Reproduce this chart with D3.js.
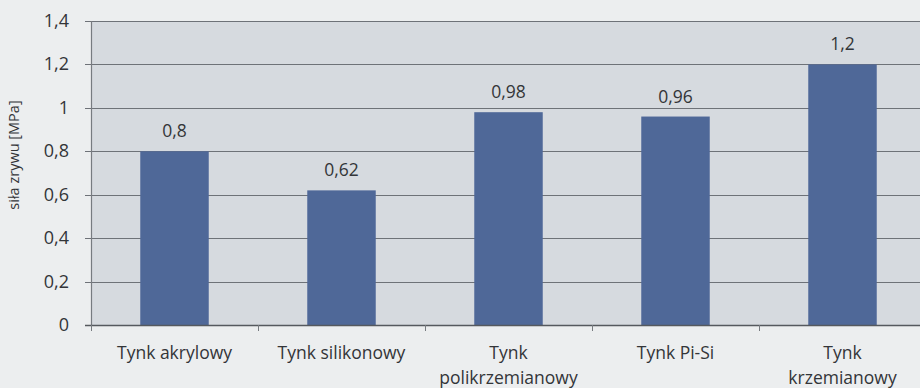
<!DOCTYPE html>
<html><head><meta charset="utf-8">
<script src="https://cdn.jsdelivr.net/npm/d3@7"></script>
<style>
html,body{margin:0;padding:0;background:#eceeef;}
svg{display:block;}
text{font-family:"Open Sans",Lato,sans-serif;fill:#333538;}
</style></head>
<body>
<svg id="c" width="920" height="388"></svg>
<script>
const categories = [["Tynk akrylowy"],["Tynk silikonowy"],["Tynk","polikrzemianowy"],["Tynk Pi-Si"],["Tynk","krzemianowy"]];
const values = [0.8, 0.62, 0.98, 0.96, 1.2];
const valueLabels = ["0,8","0,62","0,98","0,96","1,2"];
const yTicks = [0,0.2,0.4,0.6,0.8,1,1.2,1.4];
const yTickLabels = ["0","0,2","0,4","0,6","0,8","1","1,2","1,4"];
const yTitle = "siła zrywu [MPa]";

const svg = d3.select("#c");
const m = {l:91, t:21, r:-6, b:63};
const W = 920, H = 388;
const x = d3.scaleBand().domain(d3.range(values.length)).range([m.l, W - m.r]).paddingInner(0.59).paddingOuter(0.295);
const xc = d3.scaleBand().domain(d3.range(values.length)).range([m.l, W - m.r]);
const y = d3.scaleLinear().domain([0,1.4]).range([H - m.b, m.t]);

svg.append("rect").attr("x",m.l).attr("y",m.t).attr("width",W-m.r-m.l).attr("height",y(0)-m.t).attr("fill","#d6dadf");

// gridlines
svg.append("g").selectAll("line").data(yTicks.slice(1)).join("line")
  .attr("x1",m.l-6).attr("x2",W).attr("y1",d=>Math.round(y(d))+0.5).attr("y2",d=>Math.round(y(d))+0.5)
  .attr("stroke","#6e7278").attr("stroke-width",1.1);

// bars
svg.append("g").selectAll("rect").data(values).join("rect")
  .attr("x",(d,i)=>x(i)).attr("width",x.bandwidth())
  .attr("y",d=>y(d)).attr("height",d=>y(0)-y(d))
  .attr("fill","#4f6898");

// y axis line
svg.append("line").attr("x1",m.l+0.5).attr("x2",m.l+0.5).attr("y1",m.t).attr("y2",y(0)+1).attr("stroke","#777b80").attr("stroke-width",1.2);
// x axis line
svg.append("line").attr("x1",m.l-6).attr("x2",W).attr("y1",Math.round(y(0))+0.5).attr("y2",Math.round(y(0))+0.5).attr("stroke","#55595e").attr("stroke-width",1.6);
// x ticks at category boundaries
svg.append("g").selectAll("line").data(d3.range(values.length+1)).join("line")
  .attr("x1",i=>m.l + i*xc.step()+0.5).attr("x2",i=>m.l + i*xc.step()+0.5)
  .attr("y1",y(0)).attr("y2",y(0)+6).attr("stroke","#777b80");

// y labels
svg.append("g").selectAll("text").data(yTicks).join("text")
  .attr("x",69).attr("y",d=>y(d)+6).attr("text-anchor","end")
  .style("font-size","18px").text((d,i)=>yTickLabels[i]);

// value labels
svg.append("g").selectAll("text").data(values).join("text")
  .attr("x",(d,i)=>x(i)+x.bandwidth()/2).attr("y",d=>y(d)-14)
  .attr("text-anchor","middle").style("font-size","17.5px").text((d,i)=>valueLabels[i]);

// x labels
const xl = svg.append("g").selectAll("text").data(categories).join("text")
  .attr("x",(d,i)=>xc(i)+xc.bandwidth()/2).attr("y",359)
  .attr("text-anchor","middle").style("font-size","17.5px");
xl.selectAll("tspan").data(d=>d).join("tspan")
  .attr("x",function(){return d3.select(this.parentNode).attr("x");})
  .attr("dy",(d,j)=>j===0?0:25).text(d=>d);

// y title
svg.append("text").attr("transform","translate(19,155) rotate(-90)")
  .attr("text-anchor","middle").style("font-size","14.5px").text(yTitle);
</script>
</body></html>
